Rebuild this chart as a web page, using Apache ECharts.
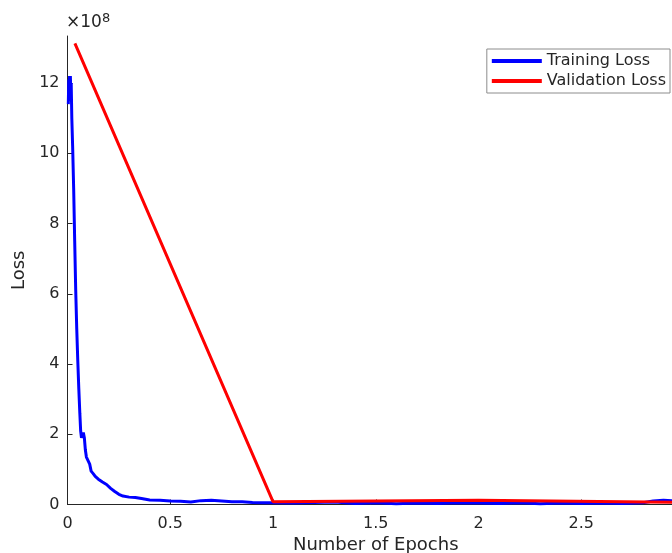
<!DOCTYPE html>
<html>
<head>
<meta charset="utf-8">
<script src="https://cdn.jsdelivr.net/npm/echarts@6/dist/echarts.min.js"></script>
<style>html,body{margin:0;padding:0;background:#fff}#c{width:672px;height:553px}</style>
</head>
<body>
<div id="c"></div>
<script>
// Values in units of 1e8
const trainEpochs = [0.004,0.006,0.008,0.010,0.012,0.014,0.016,0.018,0.021,0.025,0.030,0.035,0.040,0.045,0.050,0.055,0.060,0.064,0.068,0.072,0.077,0.082,0.087,0.092,0.100,0.108,0.115,0.125,0.135,0.150,0.170,0.190,0.210,0.230,0.250,0.270,0.300,0.330,0.360,0.400,0.450,0.500,0.550,0.600,0.650,0.700,0.750,0.800,0.850,0.900,0.950,1.000,1.100,1.200,1.300,1.400,1.500,1.600,1.700,1.800,1.900,2.000,2.100,2.200,2.300,2.400,2.500,2.600,2.700,2.800,2.850,2.900,2.950,3.000];
const trainLoss = [11.4,12.1,11.5,12.2,11.6,12.2,11.7,12.0,11.0,10.2,9.0,7.5,6.1,5.0,4.1,3.3,2.6,2.1,1.9,1.95,2.05,1.9,1.55,1.35,1.25,1.15,0.95,0.88,0.80,0.72,0.64,0.57,0.46,0.37,0.29,0.24,0.21,0.20,0.17,0.13,0.12,0.10,0.09,0.07,0.11,0.12,0.10,0.08,0.08,0.06,0.05,0.05,0.04,0.06,0.07,0.03,0.05,0.02,0.04,0.03,0.05,0.04,0.03,0.05,0.02,0.04,0.03,0.04,0.03,0.05,0.10,0.12,0.10,0.08];
const valEpochs = [0.036,1,2,3];
const valLoss = [13.13,0.08,0.12,0.06];
const xTicks = [0,0.5,1,1.5,2,2.5,3];
const yTicks = [0,2,4,6,8,10,12];
const seriesNames = ['Training Loss','Validation Loss'];

const chart = echarts.init(document.getElementById('c'));
const txt = '#262626';
const font = 'DejaVu Sans';
chart.setOption({
  animation:false,
  backgroundColor:'#fff',
  grid:{left:67.5,top:36,width:616.5,bottom:48.5,containLabel:false,outerBoundsMode:'none'},
  xAxis:{type:'value',min:0,max:3,interval:0.5,
    axisLine:{lineStyle:{color:txt,width:1}},
    axisTick:{inside:true,length:5,lineStyle:{color:txt}},
    splitLine:{show:false},
    axisLabel:{color:txt,fontFamily:font,fontSize:16,margin:11,
      formatter:v=>xTicks.includes(v)?String(v):''},
    name:'Number of Epochs',nameLocation:'middle',nameGap:30,
    nameTextStyle:{color:txt,fontFamily:font,fontSize:18}},
  yAxis:{type:'value',min:0,max:13.34,interval:2,
    axisLine:{show:true,lineStyle:{color:txt,width:1}},
    axisTick:{show:true,inside:true,length:5,lineStyle:{color:txt}},
    splitLine:{show:false},
    axisLabel:{color:txt,fontFamily:font,fontSize:16,margin:8,showMaxLabel:false,
      formatter:v=>yTicks.includes(v)?String(v):''},
    name:'Loss',nameLocation:'middle',nameGap:36,
    nameTextStyle:{color:txt,fontFamily:font,fontSize:18}},
  legend:{right:2,top:49,orient:'vertical',
    backgroundColor:'#fff',borderColor:'#8c8c8c',borderWidth:1,borderRadius:0,
    padding:[4,4,4,5],itemGap:4,itemWidth:50,itemHeight:4,icon:'rect',
    textStyle:{color:txt,fontFamily:font,fontSize:16,padding:[0,0,0,0]},
    data:seriesNames},
  graphic:[{type:'text',left:66,top:12,style:{
    text:'{a|×10}{b|8}',
    rich:{a:{fontFamily:font,fontSize:17,fill:txt},b:{fontFamily:font,fontSize:13,fill:txt,verticalAlign:'top',padding:[0,0,8,0]}}}}],
  series:[
    {name:seriesNames[0],type:'line',showSymbol:false,color:'#0000ff',
      lineStyle:{width:3,color:'#0000ff'},
      data:trainEpochs.map((x,i)=>[x,trainLoss[i]])},
    {name:seriesNames[1],type:'line',showSymbol:false,color:'#ff0000',
      lineStyle:{width:3,color:'#ff0000'},
      data:valEpochs.map((x,i)=>[x,valLoss[i]])}
  ]
});
</script>
</body>
</html>
